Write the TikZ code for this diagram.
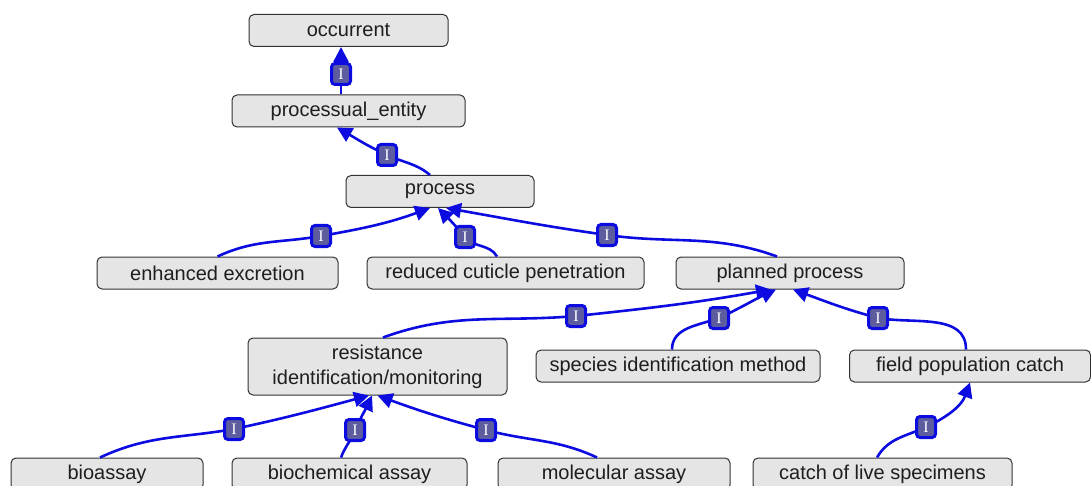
\documentclass[tikz,border=0pt]{standalone}
\usepackage{fontspec}
\setmainfont{Liberation Sans}
\newfontfamily\badgefont{Liberation Serif}
\usetikzlibrary{arrows.meta}

\definecolor{boxfill}{RGB}{229,229,229}
\definecolor{boxline}{RGB}{50,50,50}
\definecolor{boxtext}{RGB}{30,30,30}
\definecolor{linkblue}{RGB}{12,12,225}
\definecolor{badgefill}{RGB}{92,92,158}

\tikzset{
  term/.style={draw=boxline, fill=boxfill, line width=1pt, rounded corners=5pt,
    inner sep=0pt, minimum height=32pt, text=boxtext, align=center,
    font=\fontsize{20}{25}\selectfont},
  isa/.style={draw=linkblue, line width=2.6pt,
    -{Triangle[length=15pt,width=15pt]}},
  badge/.style={draw=linkblue, fill=badgefill, line width=3pt, rounded corners=3.5pt,
    inner sep=0pt, minimum width=19pt, minimum height=21pt, text=white,
    font=\badgefont\fontsize{16}{16}\selectfont}
}

\begin{document}
\begin{tikzpicture}[x=1pt,y=1pt]
\useasboundingbox (0,0) rectangle (1091,-486);

% ontology terms
\node[term, minimum width=199pt] (occ) at (348.5,-30.5) {occurrent};
\node[term, minimum width=233pt] (pe)  at (348.5,-111) {processual\_entity};
\node[term, minimum width=188pt] (proc) at (440,-191.5) {process};
\node[term, minimum width=241pt] (ee)  at (217.5,-273) {enhanced excretion};
\node[term, minimum width=277pt] (rcp) at (505.5,-273) {reduced cuticle penetration};
\node[term, minimum width=228pt] (pp)  at (790,-273) {planned process};
\node[term, minimum width=259pt, minimum height=57pt] (res) at (377.5,-366.5)
  {resistance\\identification/monitoring};
\node[term, minimum width=284pt] (sim) at (678,-366) {species identification method};
\node[term, minimum width=241pt] (fpc) at (970,-366) {field population catch};
\node[term, minimum width=192pt] (bio) at (107,-474) {bioassay};
\node[term, minimum width=235pt] (bc)  at (349.5,-474) {biochemical assay};
\node[term, minimum width=232pt] (mol) at (614,-474) {molecular assay};
\node[term, minimum width=259pt] (cls) at (882.5,-474) {catch of live specimens};

% where the is-a badges sit on their links
\coordinate (b1)  at (341,-74);
\coordinate (b2)  at (387,-155);
\coordinate (b3)  at (321,-236);
\coordinate (b4)  at (465,-237);
\coordinate (b5)  at (607,-235);
\coordinate (b6)  at (576,-316);
\coordinate (b7)  at (719,-318);
\coordinate (b8)  at (878,-318);
\coordinate (b9)  at (234,-429);
\coordinate (b10) at (355,-430);
\coordinate (b11) at (486,-430);
\coordinate (b12) at (926,-427);

% is-a links, child to parent
\draw[isa] ([xshift=-7.5pt]pe.north) -- ([xshift=-7.5pt]occ.south);
\draw[isa] ([xshift=-10pt]proc.north) to[out=140,in=-25] (b2)
           to[out=155,in=-30] ([xshift=-11.5pt]pe.south);
\draw[isa] (ee.north) to[out=25,in=190] (b3)
           to[out=10,in=200] ([xshift=-10pt]proc.south);
\draw[isa] ([xshift=-8.5pt]rcp.north) to[out=120,in=-50] (b4)
           to[out=130,in=-45] ([xshift=-2pt]proc.south);
\draw[isa] ([xshift=-13pt]pp.north) to[out=160,in=-8] (b5)
           to[out=172,in=-10] ([xshift=6pt]proc.south);
\draw[isa] ([xshift=5.5pt]res.north) to[out=20,in=185] (b6)
           to[out=6,in=190] ([xshift=-19pt]pp.south);
\draw[isa] ([xshift=-6pt]sim.north) to[out=90,in=200] (b7)
           to[out=25,in=205] ([xshift=-14pt]pp.south);
\draw[isa] ([xshift=-4pt]fpc.north) to[out=90,in=-10] (b8)
           to[out=165,in=-20] ([xshift=3pt]pp.south);
\draw[isa] ([xshift=-7pt]bio.north) to[out=25,in=190] (b9)
           to[out=12,in=195] ([xshift=-8.5pt]res.south);
\draw[isa] ([xshift=-8.5pt]bc.north) to[out=70,in=250] (b10)
           to[out=65,in=245] ([xshift=-5.5pt]res.south);
\draw[isa] ([xshift=-17pt]mol.north) to[out=155,in=-15] (b11)
           to[out=165,in=-20] (res.south);
\draw[isa] ([xshift=-5.5pt]cls.north) to[out=60,in=205] (b12)
           to[out=25,in=250] (fpc.south);

% badges drawn over the links
\foreach \b in {b1,b2,b3,b4,b5,b6,b7,b8,b9,b10,b11,b12}
  \node[badge] (\b-tag) at (\b) {I};
\end{tikzpicture}
\end{document}
